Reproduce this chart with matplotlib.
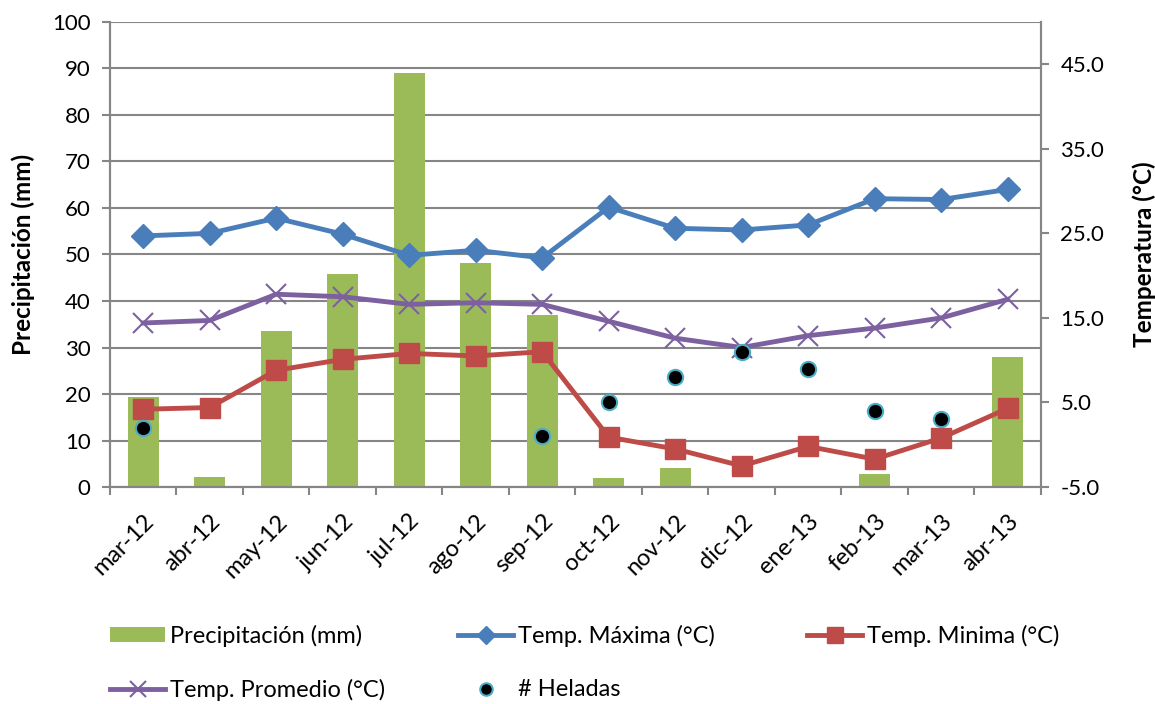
import numpy as np
import matplotlib.pyplot as plt
import matplotlib.transforms as mtransforms
from matplotlib.lines import Line2D
from matplotlib.patches import Patch

plt.rcParams['font.family'] = ['Lato', 'DejaVu Sans']

meses = ["mar-12", "abr-12", "may-12", "jun-12", "jul-12", "ago-12", "sep-12",
         "oct-12", "nov-12", "dic-12", "ene-13", "feb-13", "mar-13", "abr-13"]

precipitacion = [19.4, 2.2, 33.6, 45.8, 89.0, 48.1, 37.0,
                 1.9, 4.0, 0.0, 0.0, 2.9, 0.0, 27.9]
temp_max = [24.7, 25.0, 26.8, 24.9, 22.4, 23.0, 22.1,
            28.1, 25.6, 25.4, 26.0, 29.1, 29.0, 30.2]
temp_min = [4.2, 4.4, 8.8, 10.1, 10.8, 10.5, 11.0,
            0.9, -0.5, -2.5, -0.2, -1.7, 0.8, 4.3]
temp_prom = [14.4, 14.7, 17.8, 17.5, 16.6, 16.8, 16.6,
             14.6, 12.6, 11.5, 12.9, 13.8, 15.0, 17.2]
heladas = [2, np.nan, np.nan, np.nan, np.nan, np.nan, 1,
           5, 8, 11, 9, 4, 3, np.nan]

grey = "#868686"
c_prec = "#9BBB59"
c_max = "#4A7EBB"
c_min = "#BE4B48"
c_prom = "#7D60A0"
x = np.arange(len(meses))

fig = plt.figure(figsize=(11.55, 7.04), dpi=100)
ax = fig.add_axes([0.0952, 0.3082, 0.8061, 0.6606])
ax2 = ax.twinx()

# precipitation bars on the left axis
ax.bar(x, precipitacion, width=0.47, color=c_prec, zorder=2)
ax.set_ylim(0, 100)
ax.set_yticks(range(0, 101, 10))
ax.set_xlim(-0.5, len(meses) - 0.5)
ax.grid(axis="y", color=grey, linewidth=1.5, zorder=0)
ax.set_axisbelow(True)

# temperatures and frost days on the right axis
ax2.plot(x, temp_max, color=c_max, lw=3.5, marker="D", ms=12)
ax2.plot(x, temp_min, color=c_min, lw=3.5, marker="s", ms=14)
ax2.plot(x, temp_prom, color=c_prom, lw=3.5, marker="x", ms=15, mew=1.5)
ax2.plot(x, heladas, ls="none", marker="o", ms=11, mfc="black",
         mec="#4BACC6", mew=1.5)
ax2.set_ylim(-5, 50)
ax2.set_yticks(np.arange(-5, 46, 10))
ax2.set_yticklabels([f"{v:.1f}" for v in np.arange(-5, 46, 10)])

for a in (ax, ax2):
    for s in a.spines.values():
        s.set_color(grey)
        s.set_linewidth(1.5)
    a.spines["top"].set_visible(False)
    a.tick_params(axis="y", colors=grey, labelcolor="black", labelsize=16,
                  length=6, width=1.5, pad=8)

ax.set_xticks(x)
ax.set_xticklabels(meses, rotation=45, ha="right", va="top",
                   rotation_mode="anchor", fontsize=17)
shift = mtransforms.ScaledTranslation(0.06, 0, fig.dpi_scale_trans)
for lbl in ax.get_xticklabels():
    lbl.set_transform(lbl.get_transform() + shift)
ax.set_xticks(np.arange(-0.5, len(meses), 1), minor=True)
ax.tick_params(axis="x", which="major", length=0, pad=17)
ax.tick_params(axis="x", which="minor", length=6, width=1.5, colors=grey)

ax.set_ylabel("Precipitación (mm)", fontsize=17.5, fontweight="bold",
              labelpad=12)
ax2.set_ylabel("Temperatura (°C)", fontsize=17.5, fontweight="bold",
               labelpad=20)

# legend entries laid out in two rows below the chart
entradas = [
    (Patch(facecolor=c_prec), "Precipitación (mm)", 110, 636),
    (Line2D([], [], color=c_max, lw=3.5, marker="D", ms=9), "Temp. Máxima (°C)", 458, 636),
    (Line2D([], [], color=c_min, lw=3.5, marker="s", ms=11), "Temp. Minima (°C)", 807, 636),
    (Line2D([], [], color=c_prom, lw=3.5, marker="x", ms=11, mew=1.5), "Temp. Promedio (°C)", 110, 690),
    (Line2D([], [], ls="none", marker="o", ms=9, mfc="black", mec="#4BACC6", mew=1.5), "# Heladas", 458, 690),
]
for h, texto, px, py in entradas:
    fig.legend(handles=[h], labels=[texto], loc="center left",
               bbox_to_anchor=(px / 1155, 1 - py / 704), frameon=False,
               fontsize=17, handlelength=2.35, handleheight=0.6,
               handletextpad=0.2, borderpad=0, borderaxespad=0)

fig.savefig("out.png", dpi=100)
